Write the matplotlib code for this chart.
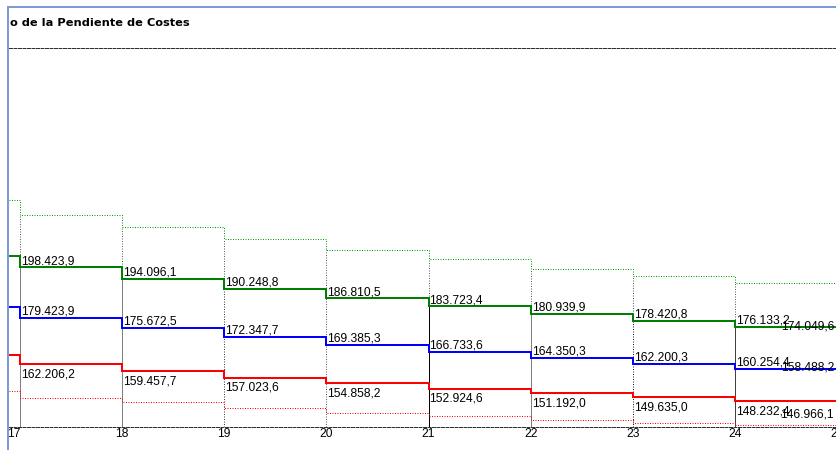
import numpy as np
import matplotlib
matplotlib.use("Agg")
import matplotlib.pyplot as plt
from matplotlib.lines import Line2D
from matplotlib.transforms import ScaledTranslation

plt.rcParams['font.family'] = ['Liberation Sans', 'DejaVu Sans']

W, H, DPI = 836, 450, 100

titulo = "o de la Pendiente de Costes"

# Periodos (el primero solo se ve en parte, a la izquierda del eje)
periodos = [16, 17, 18, 19, 20, 21, 22, 23, 24, 25]

# Coste por periodo: escenario alto, medio y bajo
coste_alto = [202780, 198423.9, 194096.1, 190248.8, 186810.5,
              183723.4, 180939.9, 178420.8, 176133.2, 174049.6]
coste_medio = [183400, 179423.9, 175672.5, 172347.7, 169385.3,
               166733.6, 164350.3, 162200.3, 160254.4, 158488.2]
coste_bajo = [165500, 162206.2, 159457.7, 157023.6, 154858.2,
              152924.6, 151192.0, 149635.0, 148232.4, 146966.1]

# Bandas de confianza (periodos 16 a 24)
banda_sup = [223700, 218100, 213500, 208900, 204900,
             201500, 197800, 195300, 192600]
banda_inf = [151900, 149250, 147750, 145500, 143850,
             142600, 141100, 140100, 139300]

ticks_x = [17, 18, 19, 20, 21, 22, 23, 24, 25]
etiquetas_x = ["17", "18", "19", "20", "21", "22", "23", "24", "25"]


def fmt_es(v):
    s = f"{v:,.1f}"
    return s.replace(",", "#").replace(".", ",").replace("#", ".")


fig = plt.figure(figsize=(W / DPI, H / DPI), dpi=DPI)
fig.patch.set_facecolor("white")

# Área de trazado en píxeles (se extiende un poco más allá del borde derecho)
px_left, px_right, px_top, px_bottom = 9, 846, 48, 427
px_per_x = 102.14
x0_px = 20.0
ax = fig.add_axes([px_left / W, 1 - px_bottom / H,
                   (px_right - px_left) / W, (px_bottom - px_top) / H])
ax.set_xlim(17 + (px_left - x0_px) / px_per_x, 17 + (px_right - x0_px) / px_per_x)
ax.set_ylim(138480, 280740)

lw_sol = 1.44
lw_fin = 0.72
punteado = (0, (1, 1.5))

edges = np.append(periodos, periodos[-1] + 1)
edges_b = np.array(periodos)

# Líneas verticales de cada periodo
verts = periodos[1:9]
estilos_v = [("-", "#808080"), ("-", "#808080"), (":", "#404040"), (":", "#606060"),
             ("-", "#000000"), ("-", "#808080"), (":", "#202020"), ("-", "#404040")]
ybot = ax.get_ylim()[0]
for i, xv in enumerate(verts):
    top = banda_sup[i + 1]
    mid = coste_alto[i + 1]
    ax.vlines(xv, mid, top, colors="#606060", linestyles=punteado, lw=lw_fin, zorder=1)
    ls, col = estilos_v[i]
    ax.vlines(xv, ybot, mid, colors=col,
              linestyles=punteado if ls == ":" else "-", lw=lw_fin, zorder=1)

# Bandas punteadas
ax.stairs(banda_sup, edges=edges_b, baseline=None, color="#00a000",
          lw=lw_fin, linestyle=punteado, zorder=2)
ax.stairs(banda_inf, edges=edges_b, baseline=None, color="#ff0000",
          lw=lw_fin, linestyle=punteado, zorder=2)

# Series principales
series = [(coste_alto, "#008000", True),
          (coste_medio, "#0000ff", True),
          (coste_bajo, "#ff0000", False)]
for vals, col, arriba in series:
    ax.stairs(vals, edges=edges, baseline=None, color=col, lw=lw_sol, zorder=3)

# Etiquetas de valor
for vals, col, arriba in series:
    for j in range(1, len(periodos)):
        xv, v = periodos[j], vals[j]
        last = j == len(periodos) - 1
        dx = -3 if last else 1
        dy = 3.2 if arriba else -13.4
        ax.annotate(fmt_es(v), xy=(xv, v), xycoords="data",
                    xytext=(dx * 72 / DPI, dy * 72 / DPI), textcoords="offset points",
                    ha="right" if last else "left", va="baseline",
                    fontsize=8.64, color="black", zorder=4, annotation_clip=False)

# Ejes
for side in ("left", "right"):
    ax.spines[side].set_visible(False)
for side in ("top", "bottom"):
    ax.spines[side].set_linestyle((0, (3, 1.5)))
    ax.spines[side].set_linewidth(lw_fin)
    ax.spines[side].set_color("#303030")
    ax.spines[side].set_zorder(5)

ax.set_yticks([])
ax.set_xticks(ticks_x, etiquetas_x)
ax.tick_params(axis="x", length=0, pad=1.0, labelsize=8.64, colors="black")
t0 = ax.xaxis.get_major_ticks()[0].label1
t0.set_transform(t0.get_transform() + ScaledTranslation(-6.5 / DPI, 0, fig.dpi_scale_trans))

# Título (ancho ajustado a 179 px)
tt = fig.text(10.5 / W, 1 - 26.5 / H, titulo, fontweight="bold", fontsize=8.64,
              family=["DejaVu Sans"], ha="left", va="baseline", color="black")
renderer = fig.canvas.get_renderer()
ancho = tt.get_window_extent(renderer).width
tt.set_fontsize(8.64 * 179.0 / ancho)

# Marco de la ventana
borde = "#7c9dd4"
fig.add_artist(Line2D([8 / W, 8 / W], [0, 1 - 6.0 / H], transform=fig.transFigure,
                      color=borde, lw=1.44, solid_capstyle="butt"))
fig.add_artist(Line2D([7 / W, 1], [1 - 7 / H, 1 - 7 / H], transform=fig.transFigure,
                      color=borde, lw=1.44, solid_capstyle="butt"))

fig.savefig("out.png", dpi=DPI, facecolor="white")
